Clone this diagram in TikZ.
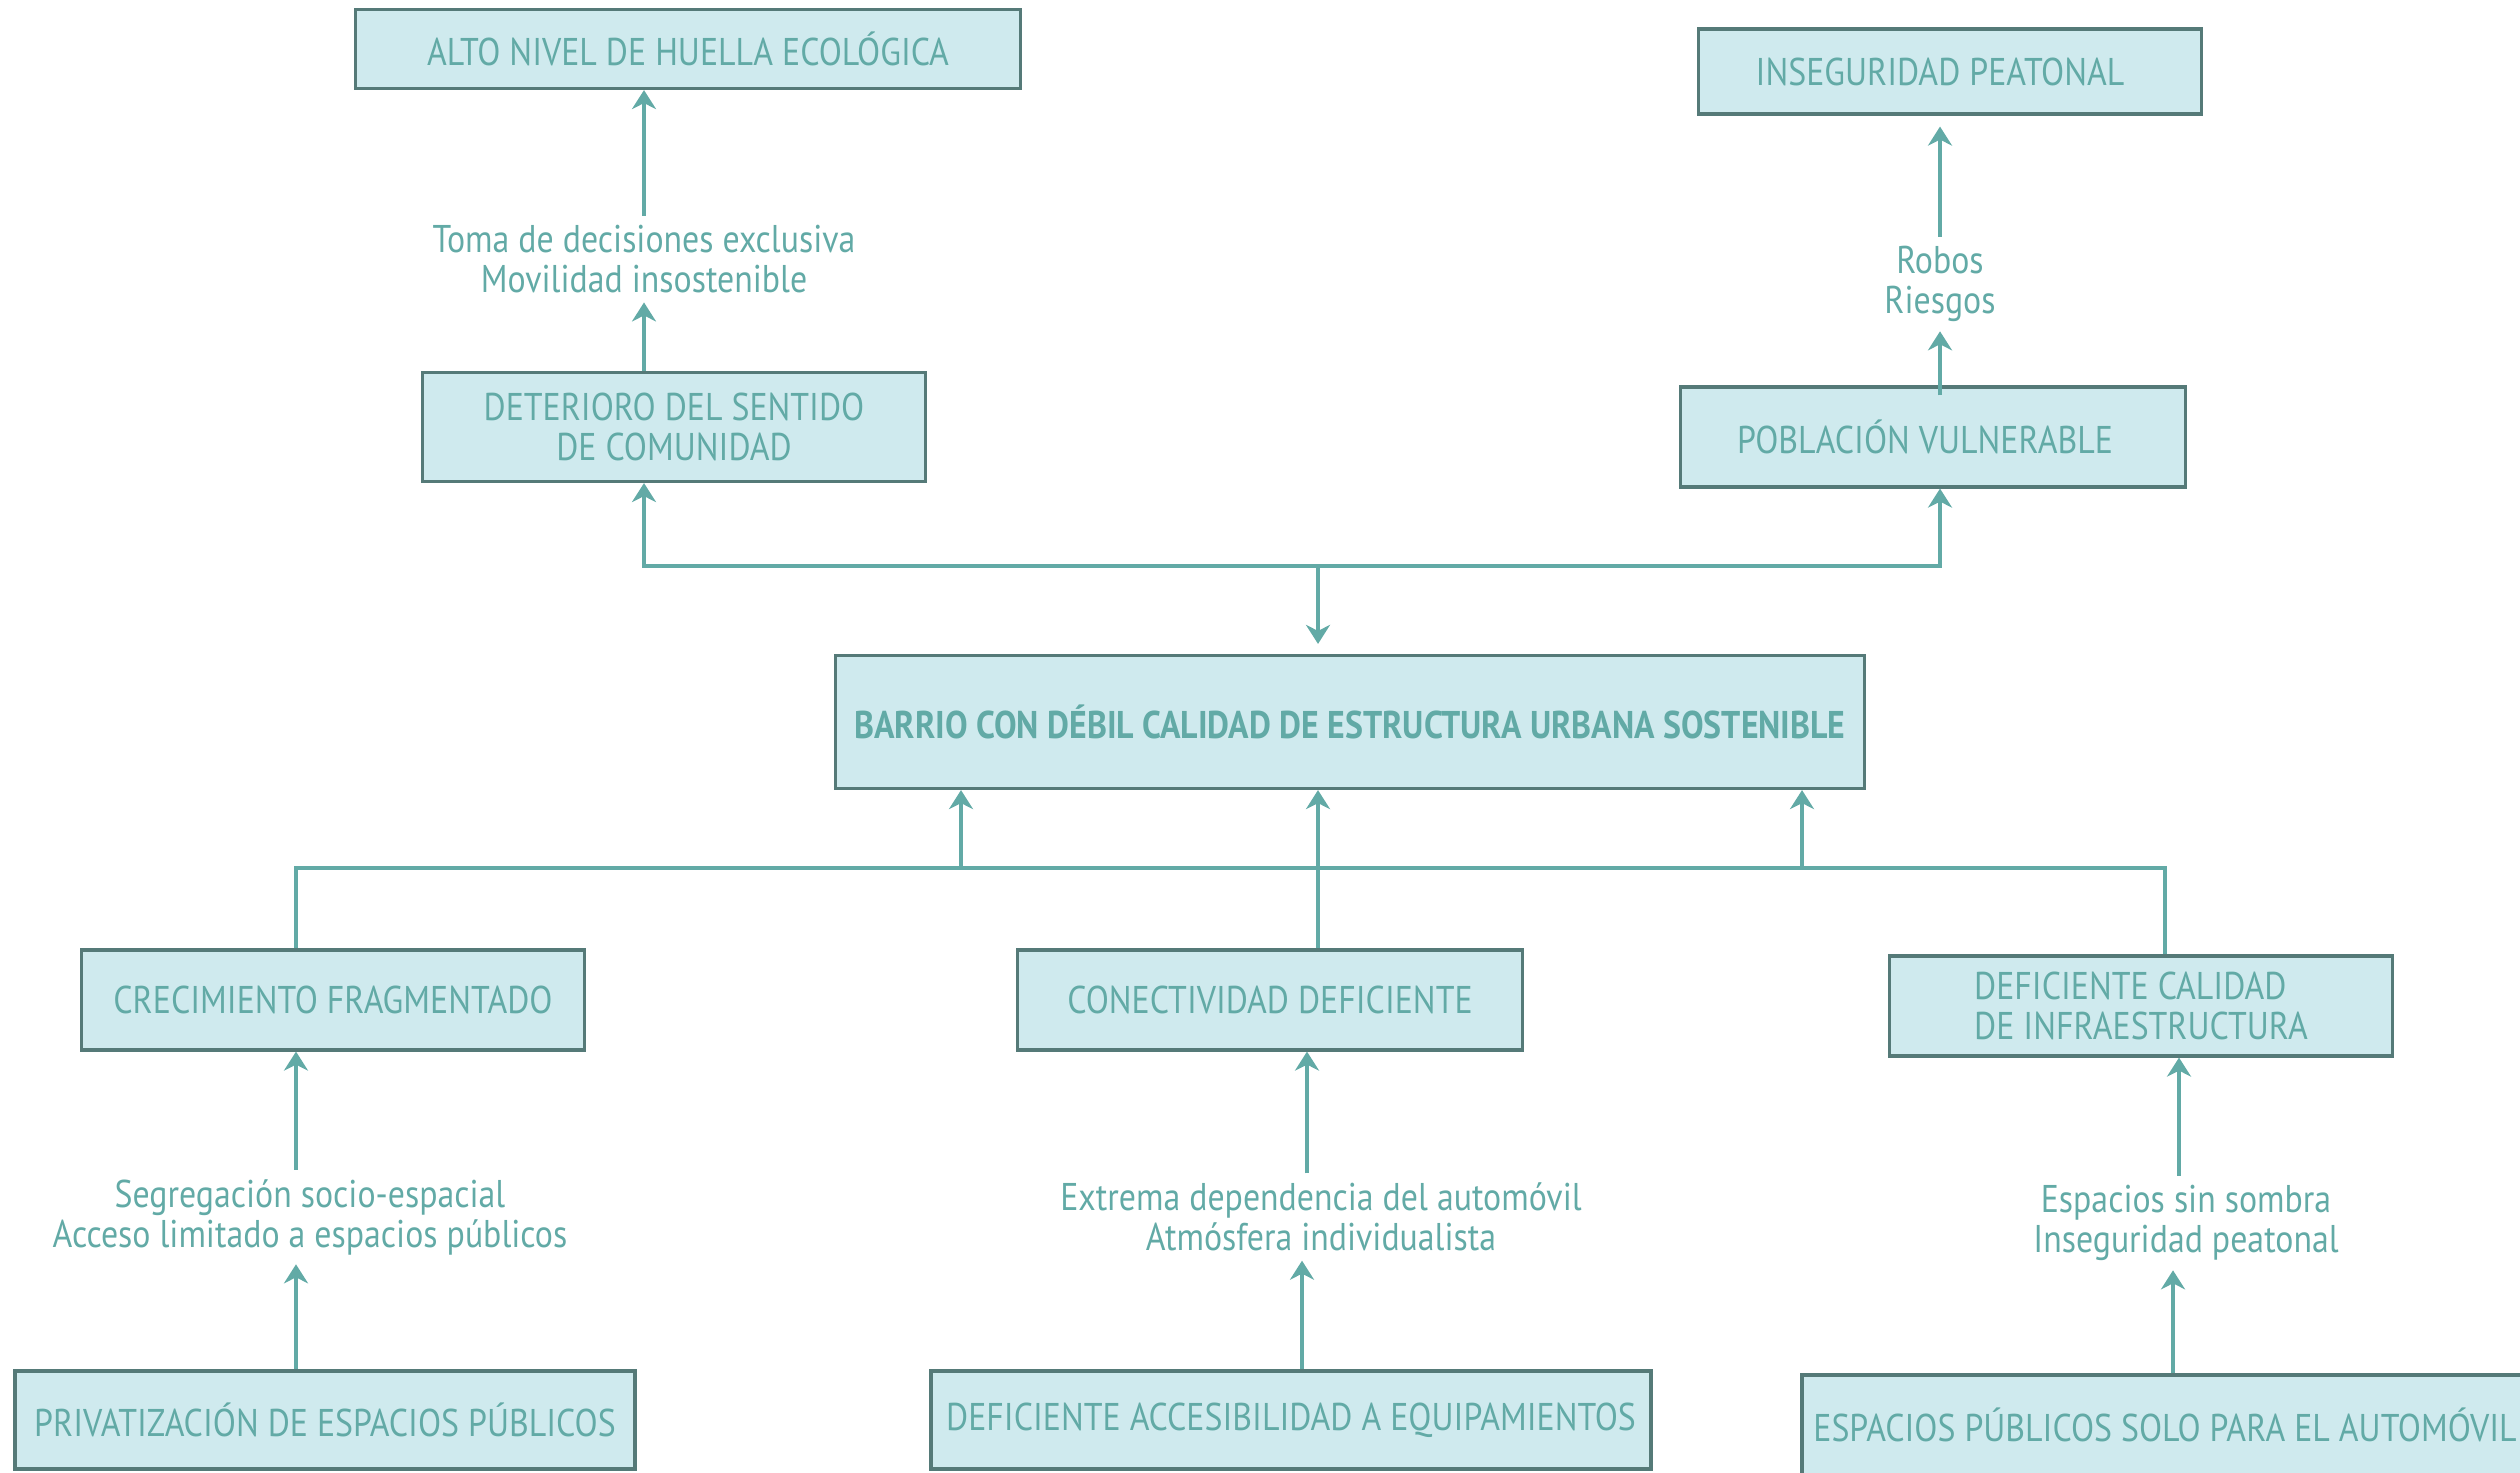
\documentclass[tikz,border=0pt]{standalone}
\usepackage{fontspec}
\setmainfont{PT Sans}[FakeStretch=0.875]
\usetikzlibrary{arrows.meta}
\definecolor{verdeagua}{HTML}{62AAA6}
\definecolor{celeste}{HTML}{CFEAEE}
\definecolor{borde}{HTML}{557A78}

\begin{document}
\begin{tikzpicture}[
	caja/.style={draw=borde, fill=celeste, line width=0.9pt, text=verdeagua, align=center,
		minimum height=1cm, inner sep=0pt, font=\fontsize{11}{11.4}\selectfont},
	etiqueta/.style={text=verdeagua, align=center, inner xsep=0pt, inner ysep=2.5pt,
		font=\fontsize{11}{11.4}\selectfont},
	flecha/.style={verdeagua, line width=0.9pt, -{Stealth[length=1.9mm,width=2.4mm,inset=0.6mm]}},
	linea/.style={verdeagua, line width=0.9pt}
	]
	\useasboundingbox (0,0) rectangle (25.2,-14.72);
	
	% efectos
	\node[caja, minimum width=6.65cm, minimum height=0.79cm] (huella) at (6.88,-0.49) {ALTO NIVEL DE HUELLA ECOLÓGICA};
	\node[caja, minimum width=5.03cm, minimum height=0.85cm] (inseguridad) at (19.50,-0.715) {INSEGURIDAD PEATONAL\kern0.2cm};
	\node[etiqueta] (toma) at (6.44,-2.59) {Toma de decisiones exclusiva\\Movilidad insostenible};
	\node[etiqueta] (robos) at (19.40,-2.84) {Robos\\Riesgos};
	\node[caja, minimum width=5.03cm, minimum height=1.09cm] (deterioro) at (6.74,-4.27) {DETERIORO DEL SENTIDO\\DE COMUNIDAD};
	\node[caja, minimum width=5.05cm] (poblacion) at (19.33,-4.37) {POBLACIÓN VULNERABLE\kern0.16cm};
	
	% problema central
	\node[caja, minimum width=10.29cm, minimum height=1.33cm, font=\fontsize{11}{11.4}\selectfont\bfseries] (barrio) at (13.50,-7.22) {BARRIO CON DÉBIL CALIDAD DE ESTRUCTURA URBANA SOSTENIBLE};
	
	% causas
	\node[caja, minimum width=5.03cm] (crecimiento) at (3.33,-10.00) {CRECIMIENTO FRAGMENTADO};
	\node[caja, minimum width=5.05cm] (conectividad) at (12.70,-10.00) {CONECTIVIDAD DEFICIENTE};
	\node[caja, minimum width=5.03cm, align=left] (calidad) at (21.41,-10.06) {DEFICIENTE CALIDAD\\DE INFRAESTRUCTURA};
	\node[etiqueta] (segregacion) at (3.10,-12.17) {Segregación socio-espacial\\Acceso limitado a espacios públicos};
	\node[etiqueta] (dependencia) at (13.21,-12.17) {Extrema dependencia del automóvil\\Atmósfera individualista};
	\node[etiqueta] (sombra) at (21.86,-12.23) {Espacios sin sombra\\Inseguridad peatonal};
	\node[caja, minimum width=6.20cm, minimum height=0.98cm] (privatizacion) at (3.25,-14.20) {PRIVATIZACIÓN DE ESPACIOS PÚBLICOS};
	\node[caja, minimum width=7.20cm, minimum height=0.98cm] (accesibilidad) at (12.91,-14.20) {DEFICIENTE ACCESIBILIDAD A EQUIPAMIENTOS};
	\node[caja, minimum width=7.26cm] (automovil) at (21.65,-14.25) {ESPACIOS PÚBLICOS SOLO PARA EL AUTOMÓVIL};
	
	\coordinate (nudo) at (13.18,-5.66);
	\coordinate (union) at (13.18,-8.68);
	\coordinate (u1) at (9.61,-8.68);
	\coordinate (u2) at (18.02,-8.68);
	
	% flechas superiores
	\draw[flecha] (toma.north) -- (toma.north |- huella.south);
	\draw[flecha] (toma |- deterioro.north) -- (toma.south);
	\draw[flecha, shorten >=0.11cm] (robos.north) -- (robos.north |- inseguridad.south);
	\draw[flecha] ([yshift=-0.1cm]robos |- poblacion.north) -- (robos.south);
	\draw[flecha] (nudo) -| (toma |- deterioro.south);
	\draw[flecha] (nudo) -| (robos |- poblacion.south);
	\draw[flecha, shorten >=0.1cm] (nudo) -- (nudo |- barrio.north);
	
	% flechas inferiores
	\draw[linea] ([xshift=-0.37cm]crecimiento.north) |- (union) -| ([xshift=0.24cm]calidad.north);
	\draw[flecha] (conectividad.north -| union) -- (union |- barrio.south);
	\foreach \u in {u1,u2}
	\draw[flecha] (\u) -- (\u |- barrio.south);
	
	\draw[flecha] ([xshift=-0.14cm]segregacion.north) -- ([xshift=-0.14cm]segregacion.north |- crecimiento.south);
	\draw[flecha] ([xshift=-0.14cm]segregacion.south |- privatizacion.north) -- ([xshift=-0.14cm]segregacion.south);
	\draw[flecha] ([xshift=-0.14cm]dependencia.north) -- ([xshift=-0.14cm]dependencia.north |- conectividad.south);
	\draw[flecha] ([xshift=-0.19cm]dependencia.south |- accesibilidad.north) -- ([xshift=-0.19cm]dependencia.south);
	\draw[flecha] ([xshift=-0.07cm]sombra.north) -- ([xshift=-0.07cm]sombra.north |- calidad.south);
	\draw[flecha] ([xshift=-0.13cm]sombra.south |- automovil.north) -- ([xshift=-0.13cm]sombra.south);
\end{tikzpicture}
\end{document}
